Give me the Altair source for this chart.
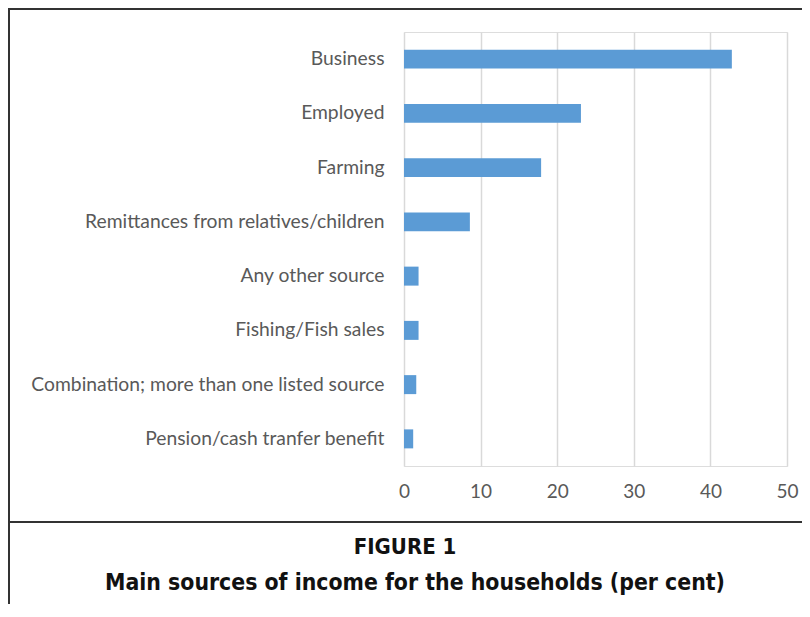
import altair as alt
import pandas as pd

categories = [
    "Business",
    "Employed",
    "Farming",
    "Remittances from relatives/children",
    "Any other source",
    "Fishing/Fish sales",
    "Combination; more than one listed source",
    "Pension/cash tranfer benefit",
]
values = [42.8, 23.1, 17.9, 8.6, 1.9, 1.9, 1.6, 1.2]
x_ticks = [0, 10, 20, 30, 40, 50]
fig_label = "FIGURE 1"
fig_title = "Main sources of income for the households (per cent)"

df = pd.DataFrame({"category": categories, "value": values})

W, H = 383, 434

bars = alt.Chart(df).mark_bar(color="#5B9BD5").encode(
    x=alt.X("value:Q", scale=alt.Scale(domain=[0, 50], nice=False),
            axis=alt.Axis(values=x_ticks, title=None, grid=True, gridColor="#d9d9d9",
                          gridWidth=1.5, domain=False, ticks=False, labelPadding=16,
                          labelFlush=False, labelOverlap=False,
                          labelFontSize=19, labelColor="#595959", labelFont="Lato")),
    y=alt.Y("category:N", sort=categories,
            scale=alt.Scale(paddingInner=0.65, paddingOuter=0.325),
            axis=alt.Axis(title=None, domain=False, ticks=False, grid=False, labelPadding=20,
                          labelFontSize=19.3, labelColor="#595959", labelFont="Lato",
                          labelLimit=400)),
)

one = pd.DataFrame({"k": [0]})
frame_col = "#333333"
top_line = alt.Chart(one).mark_rule(color=frame_col, strokeWidth=2, clip=False).encode(
    x=alt.value(-395), x2=alt.value(W + 15), y=alt.value(-23))
left_line = alt.Chart(one).mark_rule(color=frame_col, strokeWidth=2, clip=False).encode(
    x=alt.value(-395), y=alt.value(-24), y2=alt.value(H + 138))
sep_line = alt.Chart(one).mark_rule(color=frame_col, strokeWidth=2, clip=False).encode(
    x=alt.value(-395), x2=alt.value(W + 15), y=alt.value(490))

lab = alt.Chart(pd.DataFrame({"t": [fig_label]})).mark_text(
    font="DejaVu Sans Condensed", fontWeight="bold", fontSize=22, color="#111111",
    align="center", baseline="middle").encode(
    text="t:N", x=alt.value(1), y=alt.value(515))
ttl = alt.Chart(pd.DataFrame({"t": [fig_title]})).mark_text(
    font="DejaVu Sans Condensed", fontWeight="bold", fontSize=22.8, color="#111111",
    align="center", baseline="middle").encode(
    text="t:N", x=alt.value(11), y=alt.value(551))

chart = alt.layer(bars, top_line, left_line, sep_line, lab, ttl).properties(
    width=W, height=H,
    padding={"left": 396, "top": 24, "right": 15, "bottom": 138},
    autosize=alt.AutoSizeParams(type="none"),
).configure_view(stroke=None).configure(background="white")

chart.save("out.html", embed_options={"renderer": "svg", "actions": False})
